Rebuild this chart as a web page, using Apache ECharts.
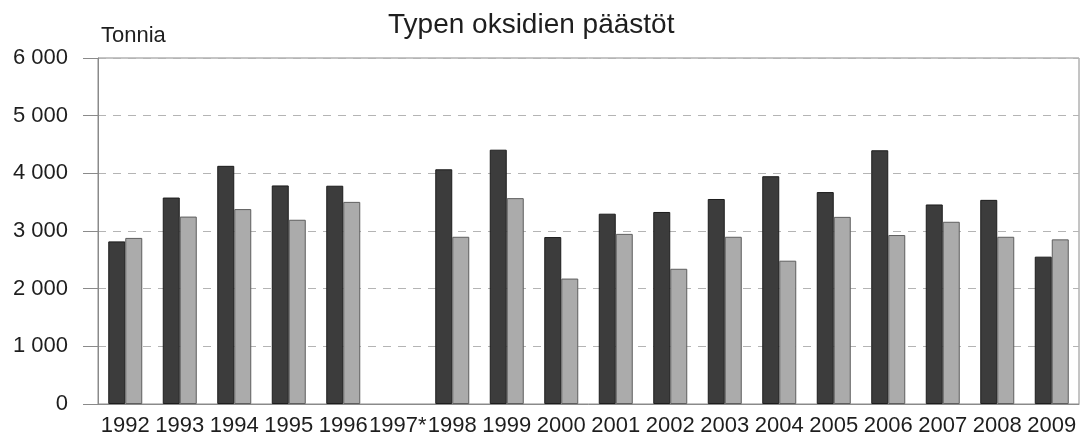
<!DOCTYPE html>
<html>
<head>
<meta charset="utf-8">
<script src="https://cdn.jsdelivr.net/npm/echarts@6/dist/echarts.min.js"></script>
<style>
  html, body { margin: 0; padding: 0; background: #ffffff; }
  #chart { width: 1080px; height: 445px; }
</style>
</head>
<body>
<div id="chart"></div>
<script>
// Vuodet (1997* ilman tietoja)
const years = ['1992', '1993', '1994', '1995', '1996', '1997*', '1998', '1999', '2000',
  '2001', '2002', '2003', '2004', '2005', '2006', '2007', '2008', '2009'];

// Typen oksidien päästöt, tonnia
const seriesDark = [2820, 3580, 4130, 3790, 3785, null, 4070, 4410, 2895,
  3300, 3330, 3555, 3950, 3675, 4400, 3460, 3540, 2555];
const seriesLight = [2880, 3250, 3380, 3195, 3505, null, 2900, 3570, 2175,
  2950, 2345, 2900, 2485, 3245, 2930, 3160, 2900, 2855];

// Pystyakselin asteikko
const yMin = 0, yMax = 6000, yStep = 1000;

const FONT = '"Liberation Sans", Arial, sans-serif';
const TEXT = '#1e1e1e';
const AXIS = '#8a8a8a';

function fmtThousands(v) {
  return String(v).replace(/\B(?=(\d{3})+(?!\d))/g, ' ');
}

const chart = echarts.init(document.getElementById('chart'), null, { renderer: 'canvas' });

chart.setOption({
  animation: false,
  backgroundColor: '#ffffff',
  grid: {
    left: 98, right: 1, top: 58, bottom: 41,
    show: true, borderColor: AXIS, borderWidth: 1, backgroundColor: 'transparent'
  },
  graphic: [
    {
      type: 'text', left: 530 - 142, top: 11,
      style: { text: 'Typen oksidien päästöt', font: '28px ' + FONT, fill: TEXT }
    },
    {
      type: 'text', left: 101, top: 25,
      style: { text: 'Tonnia', font: '22px ' + FONT, fill: TEXT }
    }
  ],
  xAxis: {
    type: 'category',
    data: years,
    axisLine: { lineStyle: { color: AXIS, width: 1 } },
    axisTick: { show: false },
    axisLabel: { interval: 0, margin: 11, fontSize: 22, fontFamily: FONT, color: TEXT }
  },
  yAxis: {
    type: 'value',
    min: yMin, max: yMax, interval: yStep,
    axisLine: { show: true, lineStyle: { color: AXIS, width: 1 } },
    axisTick: { show: true, length: 15, lineStyle: { color: AXIS } },
    axisLabel: {
      margin: 30, fontSize: 22, fontFamily: FONT, color: TEXT,
      formatter: v => fmtThousands(v)
    },
    splitLine: { show: true, lineStyle: { color: '#b4b4b4', type: [8, 7], width: 1 } }
  },
  series: [
    {
      name: 'A', type: 'bar', data: seriesDark,
      barWidth: 17, barGap: '0%',
      itemStyle: { color: '#3c3c3c', borderColor: '#1c1c1c', borderWidth: 1 }
    },
    {
      name: 'B', type: 'bar', data: seriesLight,
      barWidth: 17,
      itemStyle: { color: '#ababab', borderColor: '#5e5e5e', borderWidth: 1 }
    }
  ]
});
</script>
</body>
</html>
